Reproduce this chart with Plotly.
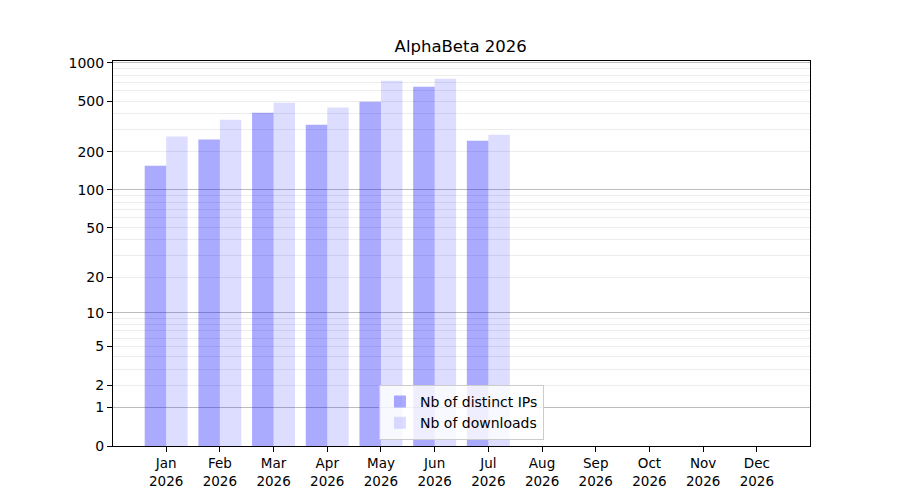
import math
import plotly.graph_objects as go

months = ["Jan", "Feb", "Mar", "Apr", "May", "Jun", "Jul", "Aug", "Sep", "Oct", "Nov", "Dec"]
year = "2026"
distinct_ips = [155, 249, 405, 326, 494, 648, 244, None, None, None, None, None]
downloads = [263, 357, 485, 444, 722, 749, 272, None, None, None, None, None]
y_ticks = [0, 1, 2, 5, 10, 20, 50, 100, 200, 500, 1000]
y_decades = [1, 10, 100, 1000]
y_minor = [3, 4, 6, 7, 8, 9, 30, 40, 60, 70, 80, 90, 300, 400, 600, 700, 800, 900]
y_top = 1030


def tf(v):
    return None if v is None else math.log10(1 + v)


xs = list(range(len(months)))
font = "DejaVu Sans, Liberation Sans, sans-serif"

fig = go.Figure()
fig.add_trace(go.Bar(
    x=xs, y=[tf(v) for v in distinct_ips], name="Nb of distinct IPs",
    marker=dict(color="rgba(0,0,255,0.333)", line=dict(width=0)),
    customdata=distinct_ips, hovertemplate="%{customdata}<extra></extra>",
))
fig.add_trace(go.Bar(
    x=xs, y=[tf(v) for v in downloads], name="Nb of downloads",
    marker=dict(color="rgba(0,0,255,0.135)", line=dict(width=0)),
    customdata=downloads, hovertemplate="%{customdata}<extra></extra>",
))
# invisible helper trace so the overlay axis (decade gridlines) is drawn
fig.add_trace(go.Scatter(x=[0], y=[0], yaxis="y2", mode="markers",
                         marker=dict(opacity=0), showlegend=False, hoverinfo="skip"))

fig.update_layout(
    width=900, height=500,
    paper_bgcolor="white", plot_bgcolor="white",
    margin=dict(l=105, r=98, t=53, b=62),
    font=dict(family=font, size=14, color="black"),
    title=dict(text="AlphaBeta 2026", x=0.503, xanchor="center", y=0.924, yanchor="middle",
               font=dict(family=font, size=16.5, color="black")),
    barmode="group", bargap=0.2, bargroupgap=0,
    showlegend=True,
    legend=dict(x=0.5, xanchor="center", y=0.016, yanchor="bottom",
                bgcolor="rgba(255,255,255,0.8)", bordercolor="#cccccc", borderwidth=1,
                font=dict(family=font, size=14, color="black"), tracegroupgap=0),
    xaxis=dict(
        range=[-0.99, 11.99], tickmode="array", tickvals=xs,
        ticktext=[f"{m}<br>{year}" for m in months],
        showgrid=False, zeroline=False,
        showline=True, linecolor="black", linewidth=1, mirror=True,
        ticks="outside", ticklen=5, tickcolor="black",
        tickfont=dict(size=13.5),
    ),
    yaxis=dict(
        range=[0, tf(y_top)], tickmode="array", tickvals=[tf(v) for v in y_ticks],
        ticktext=[str(v) for v in y_ticks],
        showgrid=True, gridcolor="#ececec", gridwidth=1, zeroline=False,
        showline=True, linecolor="black", linewidth=1, mirror=True,
        ticks="outside", ticklen=5, tickcolor="black",
        minor=dict(tickmode="array", tickvals=[tf(v) for v in y_minor],
                   showgrid=True, gridcolor="#ececec", gridwidth=1, ticks=""),
    ),
    yaxis2=dict(
        range=[0, tf(y_top)], overlaying="y", side="left",
        tickmode="array", tickvals=[tf(v) for v in y_decades],
        showticklabels=False, ticks="", showline=False,
        showgrid=True, gridcolor="#bcbcbc", gridwidth=1, zeroline=False,
    ),
)

fig.write_html("out.html")
